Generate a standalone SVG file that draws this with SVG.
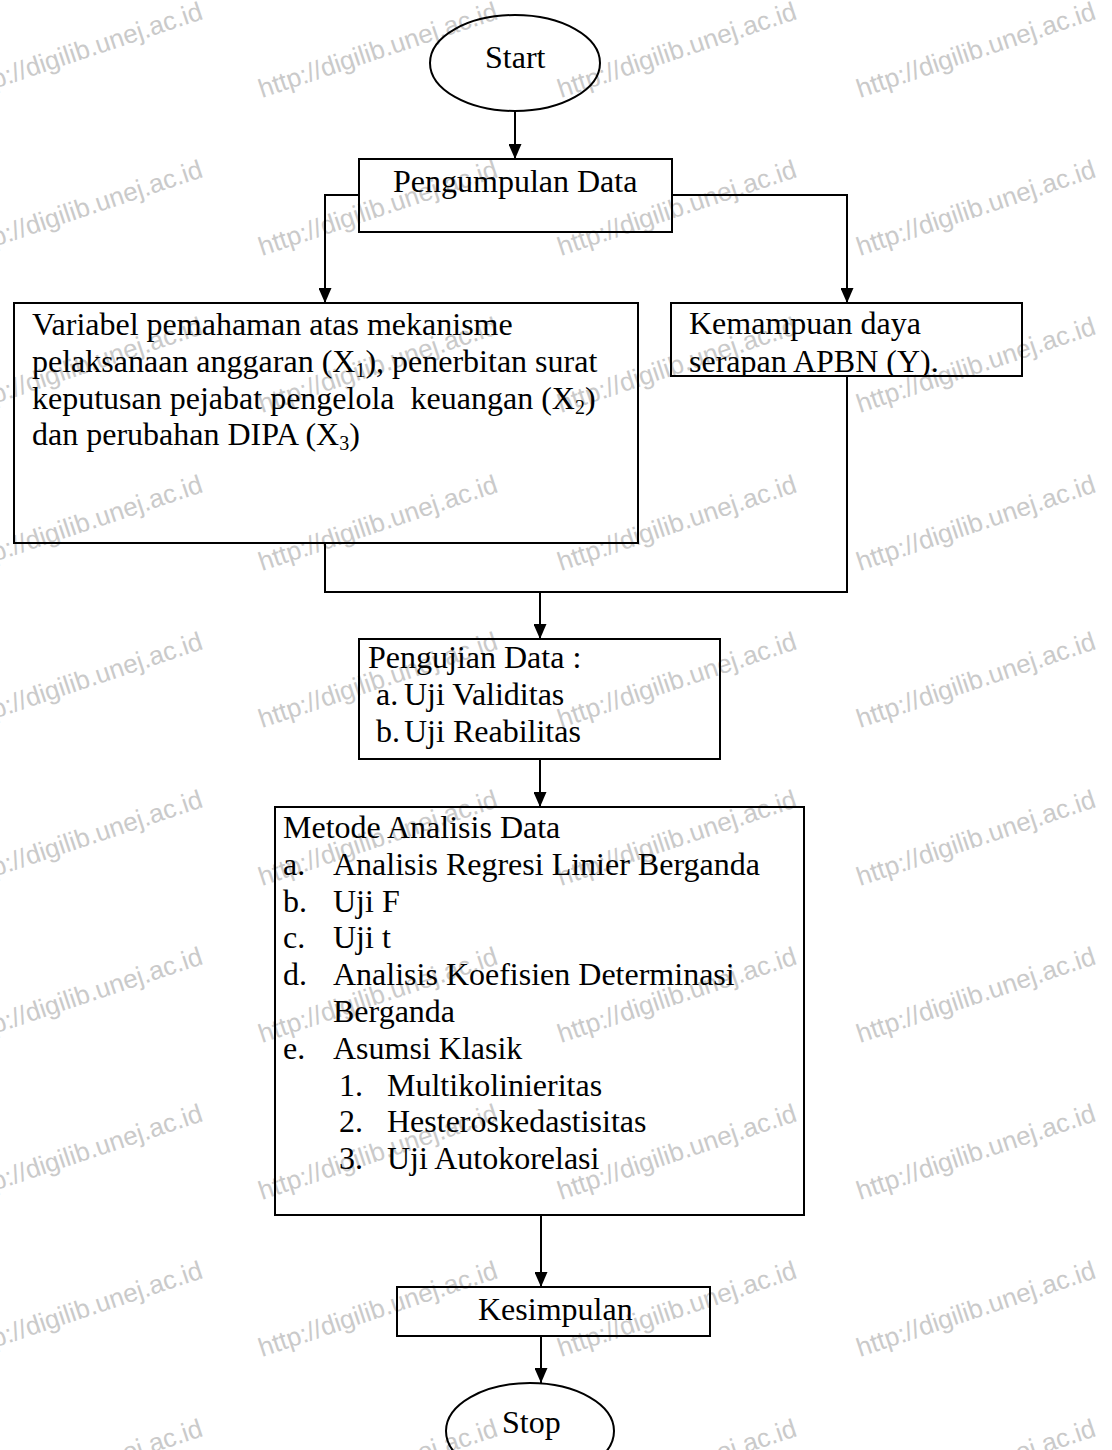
<svg xmlns="http://www.w3.org/2000/svg" xmlns:xlink="http://www.w3.org/1999/xlink" width="1112" height="1450" viewBox="0 0 1112 1450">
<style>
  .box { fill: none; stroke: #000; stroke-width: 2; }
  .t { font-family: "Liberation Serif", "Times New Roman", serif; font-size: 32px; fill: #000; white-space: pre; }
  .sub { font-size: 20px; }
  .wm { font-family: "Liberation Sans", Arial, sans-serif; font-size: 26px; fill: #cacaca; }
  .conn { fill: none; stroke: #000; stroke-width: 2; }
</style>
<defs>
  <marker id="arrow" markerUnits="userSpaceOnUse" markerWidth="15" markerHeight="13" refX="15" refY="6.5" orient="auto">
    <path d="M0,0 L15,6.5 L0,13 z" fill="#000"/>
  </marker>
  <text id="wmtext" class="wm" transform="rotate(-18.5)">http://digilib.unej.ac.id</text>
  <clipPath id="clipY"><rect x="671" y="303" width="351" height="72"/></clipPath>
</defs>
<rect width="1112" height="1450" fill="#fff"/>
<g id="watermarks">
  <use xlink:href="#wmtext" x="-33" y="98"/><use xlink:href="#wmtext" x="262" y="98"/><use xlink:href="#wmtext" x="561" y="98"/><use xlink:href="#wmtext" x="860" y="98"/>
  <use xlink:href="#wmtext" x="-33" y="256"/><use xlink:href="#wmtext" x="262" y="256"/><use xlink:href="#wmtext" x="561" y="256"/><use xlink:href="#wmtext" x="860" y="256"/>
  <use xlink:href="#wmtext" x="-33" y="413"/><use xlink:href="#wmtext" x="262" y="413"/><use xlink:href="#wmtext" x="561" y="413"/><use xlink:href="#wmtext" x="860" y="413"/>
  <use xlink:href="#wmtext" x="-33" y="571"/><use xlink:href="#wmtext" x="262" y="571"/><use xlink:href="#wmtext" x="561" y="571"/><use xlink:href="#wmtext" x="860" y="571"/>
  <use xlink:href="#wmtext" x="-33" y="728"/><use xlink:href="#wmtext" x="262" y="728"/><use xlink:href="#wmtext" x="561" y="728"/><use xlink:href="#wmtext" x="860" y="728"/>
  <use xlink:href="#wmtext" x="-33" y="886"/><use xlink:href="#wmtext" x="262" y="886"/><use xlink:href="#wmtext" x="561" y="886"/><use xlink:href="#wmtext" x="860" y="886"/>
  <use xlink:href="#wmtext" x="-33" y="1043"/><use xlink:href="#wmtext" x="262" y="1043"/><use xlink:href="#wmtext" x="561" y="1043"/><use xlink:href="#wmtext" x="860" y="1043"/>
  <use xlink:href="#wmtext" x="-33" y="1200"/><use xlink:href="#wmtext" x="262" y="1200"/><use xlink:href="#wmtext" x="561" y="1200"/><use xlink:href="#wmtext" x="860" y="1200"/>
  <use xlink:href="#wmtext" x="-33" y="1357"/><use xlink:href="#wmtext" x="262" y="1357"/><use xlink:href="#wmtext" x="561" y="1357"/><use xlink:href="#wmtext" x="860" y="1357"/>
  <use xlink:href="#wmtext" x="-33" y="1515"/><use xlink:href="#wmtext" x="262" y="1515"/><use xlink:href="#wmtext" x="561" y="1515"/><use xlink:href="#wmtext" x="860" y="1515"/>
</g>
<g id="connectors">
  <line class="conn" x1="515" y1="111" x2="515" y2="159" marker-end="url(#arrow)"/>
  <polyline class="conn" points="359,195 325,195 325,303" marker-end="url(#arrow)"/>
  <polyline class="conn" points="672,195 847,195 847,303" marker-end="url(#arrow)"/>
  <polyline class="conn" points="325,543 325,592 847,592 847,376"/>
  <line class="conn" x1="540" y1="592" x2="540" y2="639" marker-end="url(#arrow)"/>
  <line class="conn" x1="540" y1="759" x2="540" y2="807" marker-end="url(#arrow)"/>
  <line class="conn" x1="541" y1="1215" x2="541" y2="1287" marker-end="url(#arrow)"/>
  <line class="conn" x1="541" y1="1336" x2="541" y2="1383" marker-end="url(#arrow)"/>
</g>
<g id="start">
  <ellipse class="box" cx="515" cy="63" rx="85" ry="48"/>
  <text class="t" x="485" y="68">Start</text>
</g>
<g id="pengumpulan">
  <rect class="box" x="359" y="159" width="313" height="73"/>
  <text class="t" x="393" y="192">Pengumpulan Data</text>
</g>
<g id="variabel">
  <rect class="box" x="14" y="303" width="624" height="240"/>
  <text class="t" x="32" y="335">Variabel pemahaman atas mekanisme</text>
  <text class="t" x="32" y="371.8">pelaksanaan anggaran (X<tspan class="sub" dy="5">1</tspan><tspan dy="-5">), penerbitan surat</tspan></text>
  <text class="t" x="32" y="408.6">keputusan pejabat pengelola  keuangan (X<tspan class="sub" dy="5">2</tspan><tspan dy="-5">)</tspan></text>
  <text class="t" x="32" y="445.4">dan perubahan DIPA (X<tspan class="sub" dy="5">3</tspan><tspan dy="-5">)</tspan></text>
</g>
<g id="kemampuan">
  <rect class="box" x="671" y="303" width="351" height="73"/>
  <g clip-path="url(#clipY)">
    <text class="t" x="689" y="334">Kemampuan daya</text>
    <text class="t" x="689" y="372">serapan APBN (Y).</text>
  </g>
</g>
<g id="pengujian">
  <rect class="box" x="359" y="639" width="361" height="120"/>
  <text class="t" x="368" y="668">Pengujian Data :</text>
  <text class="t" x="376" y="705">a.</text><text class="t" x="404" y="705">Uji Validitas</text>
  <text class="t" x="376" y="741.6">b.</text><text class="t" x="404" y="741.6">Uji Reabilitas</text>
</g>
<g id="metode">
  <rect class="box" x="275" y="807" width="529" height="408"/>
  <text class="t" x="283" y="838">Metode Analisis Data</text>
  <text class="t" x="283" y="874.8">a.</text><text class="t" x="333" y="874.8">Analisis Regresi Linier Berganda</text>
  <text class="t" x="283" y="911.6">b.</text><text class="t" x="333" y="911.6">Uji F</text>
  <text class="t" x="283" y="948.4">c.</text><text class="t" x="333" y="948.4">Uji t</text>
  <text class="t" x="283" y="985.2">d.</text><text class="t" x="333" y="985.2">Analisis Koefisien Determinasi</text>
  <text class="t" x="333" y="1022">Berganda</text>
  <text class="t" x="283" y="1058.8">e.</text><text class="t" x="333" y="1058.8">Asumsi Klasik</text>
  <text class="t" x="339" y="1095.6">1.</text><text class="t" x="387" y="1095.6">Multikolinieritas</text>
  <text class="t" x="339" y="1132.4">2.</text><text class="t" x="387" y="1132.4">Hesteroskedastisitas</text>
  <text class="t" x="339" y="1169.2">3.</text><text class="t" x="387" y="1169.2">Uji Autokorelasi</text>
</g>
<g id="kesimpulan">
  <rect class="box" x="397" y="1287" width="313" height="49"/>
  <text class="t" x="478" y="1320">Kesimpulan</text>
</g>
<g id="stop">
  <ellipse class="box" cx="530" cy="1431" rx="84" ry="48"/>
  <text class="t" x="502" y="1433">Stop</text>
</g>
</svg>
